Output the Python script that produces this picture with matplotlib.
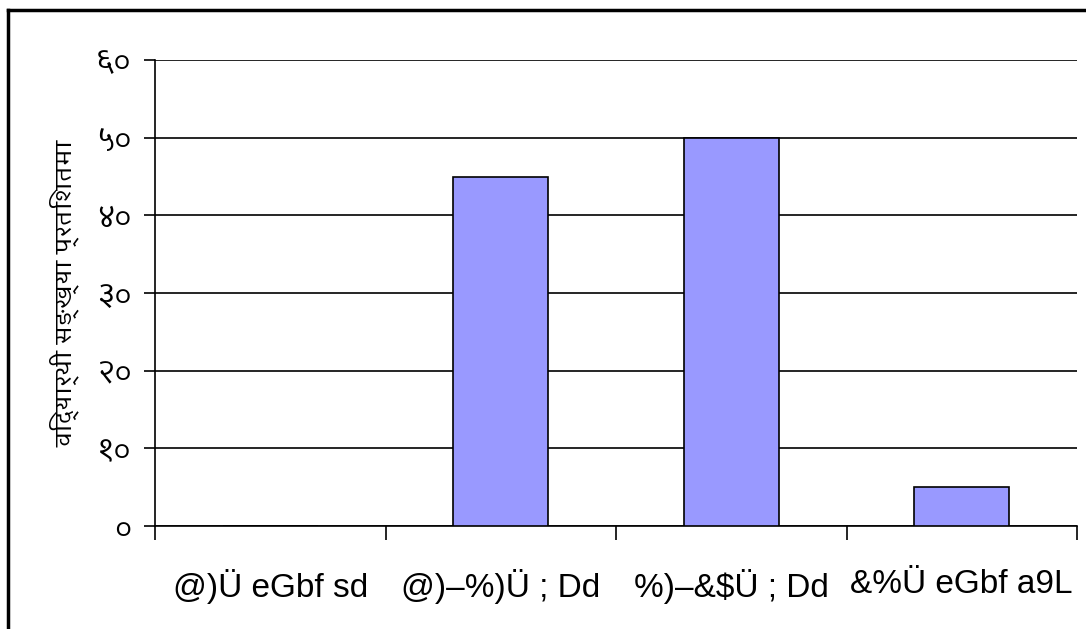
import matplotlib
matplotlib.use("Agg")
import matplotlib.pyplot as plt
from matplotlib.lines import Line2D

# data
categories = ["@)Ü eGbf sd", "@)–%)Ü ; Dd", "%)–&$Ü ; Dd", "&%Ü eGbf a9L"]
values = [0, 45, 50, 5]
y_ticks = [0, 10, 20, 30, 40, 50, 60]
y_tick_labels = ["०", "१०", "२०", "३०", "४०", "५०", "६०"]
y_label = "विद्यार्थी सङ्ख्या प्रतिशतमा"

deva_family = ["Amiko", "FreeSans", "DejaVu Sans"]

fig = plt.figure(figsize=(10.86, 6.29), dpi=100)
ax = fig.add_axes([155 / 1086, 1 - 526 / 629, (1077 - 155) / 1086, (526 - 60) / 629])

x = list(range(len(categories)))
ax.bar(x, values, width=0.41, color="#9999FF", edgecolor="black", linewidth=1.2, zorder=3)

ax.set_xlim(-0.5, len(categories) - 0.5)
ax.set_ylim(0, 60)

ax.set_yticks(y_ticks)
ax.set_yticklabels(y_tick_labels, family=deva_family, fontsize=21)
ax.grid(axis="y", color="black", linewidth=1.2, zorder=1)
ax.tick_params(axis="y", length=8, width=1.2, pad=9)

ax.set_xticks([i - 0.5 for i in range(len(categories) + 1)])
ax.set_xticklabels([])
ax.set_xticks(x, minor=True)
ax.set_xticklabels(categories, minor=True, family="Liberation Sans", fontsize=24)
ax.tick_params(axis="x", which="major", length=10, width=1.2)
ax.tick_params(axis="x", which="minor", length=0, pad=31)

for side in ["top", "right"]:
    ax.spines[side].set_visible(False)
for side in ["left", "bottom"]:
    ax.spines[side].set_linewidth(1.2)

ax.set_ylabel(y_label, family=deva_family, fontsize=17, labelpad=12)

# outer frame, only top and left edges show in the reference
fig.add_artist(Line2D([8 / 1086, 8 / 1086], [0, 1 - 10 / 629], color="black", linewidth=2.5))
fig.add_artist(Line2D([8 / 1086, 1], [1 - 10 / 629, 1 - 10 / 629], color="black", linewidth=2.5))

plt.savefig("out.png", dpi=100)
